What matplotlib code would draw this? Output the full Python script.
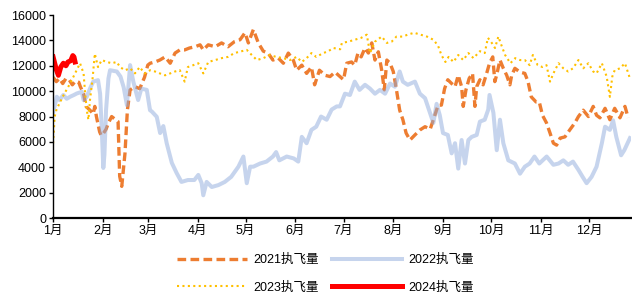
import matplotlib
matplotlib.use('Agg')
import matplotlib.pyplot as plt
from matplotlib.lines import Line2D

plt.rcParams['font.family'] = ['Liberation Sans', 'Noto Sans CJK SC', 'DejaVu Sans']

# day of year (0 = 1 Jan) and flights
days2021 = [0, 2, 4, 6, 8, 10, 12, 14, 16, 17, 19, 20.5, 23, 25, 26, 27, 29, 30, 31.5, 33,
            34.5, 36.5, 38.5, 40.5, 41.5, 42.8, 44.8, 46.3, 48, 51, 54, 57, 59, 60.5, 63.5,
            66.5, 69.8, 73, 76, 79, 82, 85, 88.5, 91.6, 93.6, 96.7, 101, 105, 109, 113,
            116.5, 119.6, 121.7, 124.8, 127.9, 131, 134, 137, 140.4, 143.5, 146.6, 149.7,
            151.8, 155, 158, 161, 163, 166, 169.5, 172.6, 175.7, 178.8, 181, 183, 186, 188,
            190, 192, 194.4, 196.5, 198.6, 200.6, 202.7, 204.8, 206.4, 208, 210, 212, 214,
            216, 218, 220, 222.4, 225.5, 228.7, 231.8, 235, 237, 240, 242, 244, 246, 248.4,
            250.5, 252.5, 254.6, 255.6, 257.3, 259.3, 261.4, 262.9, 264, 266, 268, 270.2,
            272, 274, 275.3, 276.4, 278.5, 280.6, 282.7, 284.7, 285.8, 287.8, 291, 294, 296,
            298, 301, 303, 305, 307.5, 309.7, 311.8, 313.8, 316, 319, 322, 325.2, 327.4,
            330.4, 333.6, 336.6, 338.7, 340.8, 344, 347, 350, 353.3, 356.4, 358.4]
vals2021 = [11100, 10750, 11000, 10600, 11000, 10900, 10500, 10800, 10700, 10350, 9800, 8800,
            8500, 8200, 8800, 8000, 6800, 6500, 6700, 7000, 7500, 8000, 7800, 7600, 3300, 2500,
            5100, 8500, 10100, 10350, 10200, 11100, 12050, 12200, 12300, 12450, 12700, 12200,
            13000, 13250, 13250, 13400, 13500, 13650, 13250, 13650, 13500, 13800, 13500, 13900,
            14050, 14600, 13800, 14850, 13800, 13150, 13000, 12450, 12600, 12200, 13000, 12450,
            11650, 12050, 11400, 11900, 10500, 11650, 11250, 11150, 11500, 11150, 10900, 12200,
            12300, 12050, 13000, 12700, 13400, 13000, 13800, 12450, 13100, 11650, 10100, 12450,
            12200, 11550, 10100, 8500, 7750, 6700, 6150, 6550, 6950, 7200, 7000, 7750, 8900,
            8900, 10200, 10900, 10600, 10350, 11250, 10350, 8800, 10100, 11000, 11400, 8800,
            10350, 10900, 10500, 11400, 12200, 12700, 10750, 11250, 12450, 11800, 11250, 10500,
            11250, 11800, 11500, 11400, 10750, 9550, 9150, 9150, 8100, 7500, 6700, 5900, 5750,
            6300, 6400, 6950, 7500, 8000, 8500, 8000, 8800, 8100, 7900, 8650, 7750, 8650, 7900,
            8800, 7900]

days2022 = [0, 2.3, 4, 6.4, 8.5, 10.6, 13, 14.8, 17.9, 19, 21, 23, 25, 28, 29.3, 30.5, 31.3,
            32, 33, 34.5, 35.5, 39.7, 42, 44, 46, 48, 50, 53, 55, 58.4, 60.4, 61.5, 64.6, 66.7,
            68.7, 70.8, 74, 77, 80, 84, 88, 90.5, 92.6, 93.6, 95.7, 98.9, 103, 107, 111, 115.5,
            118.6, 120.7, 122.8, 124.8, 129, 133, 137, 139, 141, 145.6, 150, 152.8, 155, 158,
            161, 164, 167, 170.5, 173.6, 176.8, 178.8, 181.9, 185, 188, 191, 194.4, 197.5,
            200.6, 203.7, 206.9, 210, 213, 216, 218, 221, 225.5, 228.6, 231.8, 235, 236.3, 237,
            239, 241, 243, 246, 248.4, 250.5, 252.5, 254.6, 256.7, 258.8, 260.9, 264, 266, 269,
            271.2, 272, 274.4, 276.5, 278.5, 280.6, 283.7, 287.8, 291, 294, 297, 300, 303,
            307.6, 311.8, 315, 318, 321, 324, 327.4, 330, 332.5, 335.6, 338.7, 342, 344, 347,
            349, 351, 354, 356, 359.5]
vals2022 = [8300, 9560, 9300, 9700, 9400, 9560, 9700, 9820, 9950, 9300, 9560, 10200, 10750,
            10870, 9800, 6500, 3950, 5000, 8500, 11000, 11650, 11550, 11150, 10300, 8900, 12050,
            10750, 9300, 10200, 10100, 8500, 8400, 7980, 6700, 7250, 5900, 4350, 3550, 2850,
            3000, 3000, 3400, 2750, 1800, 2850, 2450, 2600, 2850, 3250, 4050, 4850, 2750, 4050,
            4050, 4300, 4450, 4850, 5200, 4550, 4850, 4700, 4450, 6400, 5900, 6950, 7200, 8000,
            7750, 8550, 8800, 8800, 9800, 9700, 10750, 10100, 10500, 10200, 9800, 10100, 9800,
            10600, 10350, 11550, 10750, 10500, 10750, 9800, 9450, 8250, 7750, 7500, 9000, 8100,
            6700, 6550, 5100, 5900, 3900, 6150, 4300, 6150, 6400, 6550, 7600, 7750, 8550, 9700,
            8300, 5350, 7750, 5900, 4550, 4300, 3500, 4050, 4300, 4850, 4300, 4850, 4200, 4300,
            4550, 4200, 4450, 3800, 3250, 2750, 3250, 4050, 5900, 7200, 6950, 7700, 6400, 4950,
            5350, 6300]

days2023 = [0, 1, 2, 4, 7, 10.6, 13.7, 16.8, 19, 20, 21, 22, 23, 24.7, 26, 28, 30.3, 33.5,
            36.6, 39.7, 41.7, 44.8, 48, 51, 54, 57, 60.5, 63.5, 66.5, 69.8, 73, 76, 79, 82, 84,
            87.4, 90.5, 93.6, 96.7, 101, 105, 109, 113, 117, 120.7, 123.8, 127, 131, 135, 139,
            143.5, 147.6, 151.8, 155, 158, 161, 164, 168.4, 171.5, 174.7, 178.9, 180, 184, 188,
            192, 195.5, 197.5, 200.6, 204.8, 208, 211, 214, 217.8, 221, 225, 229, 233, 237, 238,
            240, 242, 244.5, 246.5, 249.5, 252.5, 255.6, 258.8, 262, 266, 269, 271, 273.4,
            275.4, 277.5, 279.6, 281.7, 285, 288, 291, 294, 297, 299, 302, 305, 307.5, 309.7,
            311.8, 315, 318, 321, 324, 327.4, 330.4, 333.6, 336.6, 338.7, 342, 345, 346, 347,
            348.5, 350, 353.3, 356.4, 359.5]
vals2023 = [5880, 8000, 8500, 9050, 9800, 10600, 11400, 12200, 11400, 9800, 8500, 7750, 9300,
            11100, 12950, 11900, 12450, 12300, 12200, 12300, 11900, 11650, 11800, 11400, 11900,
            11400, 11650, 11550, 11400, 11250, 11400, 11550, 11650, 10750, 11900, 12050, 12200,
            11400, 12300, 12450, 12600, 12700, 13000, 13130, 13250, 12850, 12450, 12600, 12850,
            12700, 12600, 12450, 12700, 12300, 12600, 13000, 12700, 13000, 13150, 13400, 13300,
            13800, 13900, 14050, 14200, 14450, 13000, 13900, 14300, 13800, 13900, 14300, 14300,
            14450, 14600, 14450, 14300, 14050, 13900, 13550, 12850, 12300, 12700, 12300, 12850,
            12450, 13000, 12600, 13150, 13000, 14200, 13800, 13400, 14300, 13550, 12850, 12200,
            12600, 12450, 12450, 12050, 12850, 12050, 11900, 12050, 10750, 11400, 12200, 11800,
            11550, 11800, 12450, 11800, 12200, 11550, 11400, 12200, 11150, 10350, 9550, 11150,
            11650, 11800, 12200, 11000]

days2024 = [0, 1, 2, 3.3, 4.8, 6.4, 8, 9.3, 11, 12.3, 13, 13.7]
vals2024 = [12700, 12200, 11700, 11250, 11900, 12200, 12000, 12300, 12400, 12800, 12700, 12300]

month_days = [0, 31, 59, 90, 120, 151, 181, 212, 243, 273, 304, 334]
month_labels = ['%d月' % m for m in range(1, 13)]

fig = plt.figure(figsize=(6.32, 3.0), dpi=100)
ax = fig.add_axes([0.084, 0.273, 0.914, 0.677])

ax.plot(days2021, vals2021, color='#ED7D31', lw=2.4, linestyle=(0, (2.6, 1.3)))
ax.plot(days2022, vals2022, color='#8FAADC', alpha=0.5, lw=2.9)
ax.plot(days2023, vals2023, color='#FFC000', lw=1.5, linestyle=(0, (1, 1.6)))
ax.plot(days2024, vals2024, color='#FF0000', lw=3.6)

ax.set_xlim(0, 360)
ax.set_ylim(0, 16000)
ax.set_yticks(range(0, 16001, 2000))
ax.set_xticks(month_days)
ax.set_xticklabels(month_labels)
ax.tick_params(axis='both', labelsize=9, length=3, width=1, color='black', pad=2)
ax.spines['top'].set_visible(False)
ax.spines['right'].set_visible(False)
ax.spines['left'].set_linewidth(1.0)
ax.spines['bottom'].set_linewidth(1.6)

# legend rows: 2021, 2022 / 2023, 2024
h21 = Line2D([], [], color='#ED7D31', lw=2.4, linestyle=(0, (2.6, 1.3)))
h22 = Line2D([], [], color='#8FAADC', alpha=0.5, lw=2.9)
h23 = Line2D([], [], color='#FFC000', lw=1.5, linestyle=(0, (1, 1.6)))
h24 = Line2D([], [], color='#FF0000', lw=3.6)
fig.legend([h21, h23, h22, h24], ['2021执飞量', '2023执飞量', '2022执飞量', '2024执飞量'],
           ncol=2, loc='center', bbox_to_anchor=(0.515, 0.087), frameon=False, fontsize=9,
           handlelength=5.6, handletextpad=0.5, columnspacing=1.0, labelspacing=1.25)

fig.savefig('out.png', dpi=100)
